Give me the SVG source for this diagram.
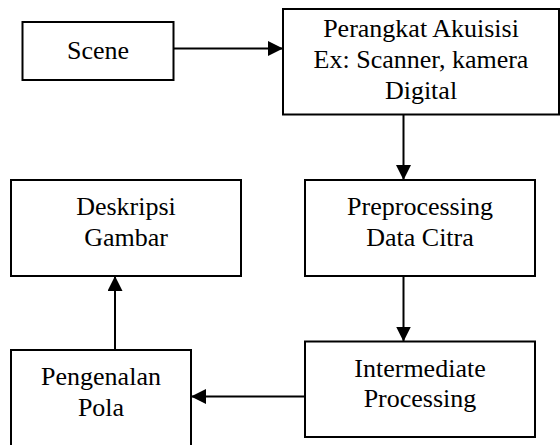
<svg xmlns="http://www.w3.org/2000/svg" width="560" height="445" viewBox="0 0 560 445">
  <style>
    .box { fill: #ffffff; stroke: #000000; stroke-width: 2; }
    .lbl { font-family: "Liberation Serif", "Times New Roman", serif; font-size: 26px; fill: #000000; text-anchor: middle; }
    .conn { stroke: #000000; stroke-width: 2; fill: none; marker-end: url(#arrow); }
  </style>
  <defs>
    <marker id="arrow" markerUnits="userSpaceOnUse" markerWidth="15" markerHeight="15" refX="15" refY="7.5" orient="auto">
      <path d="M0,0 L15,7.5 L0,15 Z" fill="#000000"/>
    </marker>
  </defs>
  <rect width="560" height="445" fill="#ffffff"/>

  <g id="scene">
    <rect class="box" x="22.5" y="22" width="151" height="58"/>
    <text class="lbl" x="98" y="58.5">Scene</text>
  </g>

  <g id="perangkat-akuisisi">
    <rect class="box" x="283" y="9" width="276" height="105.5"/>
    <text class="lbl" x="421" y="36.5">Perangkat Akuisisi</text>
    <text class="lbl" x="421" y="67.5">Ex: Scanner, kamera</text>
    <text class="lbl" x="421" y="98.5">Digital</text>
  </g>

  <g id="preprocessing">
    <rect class="box" x="305" y="180" width="230" height="96"/>
    <text class="lbl" x="420" y="215">Preprocessing</text>
    <text class="lbl" x="420" y="246">Data Citra</text>
  </g>

  <g id="intermediate">
    <rect class="box" x="305" y="341.5" width="230" height="95.5"/>
    <text class="lbl" x="420" y="376.5">Intermediate</text>
    <text class="lbl" x="420" y="407">Processing</text>
  </g>

  <g id="pengenalan-pola">
    <rect class="box" x="11" y="350" width="180" height="110"/>
    <text class="lbl" x="101" y="385">Pengenalan</text>
    <text class="lbl" x="101" y="416">Pola</text>
  </g>

  <g id="deskripsi-gambar">
    <rect class="box" x="11" y="180" width="230" height="96"/>
    <text class="lbl" x="126" y="215">Deskripsi</text>
    <text class="lbl" x="126" y="246">Gambar</text>
  </g>

  <g id="connectors">
    <line class="conn" x1="173.5" y1="48.5" x2="283" y2="48.5"/>
    <line class="conn" x1="403.5" y1="114.5" x2="403.5" y2="180"/>
    <line class="conn" x1="403.5" y1="276" x2="403.5" y2="341.5"/>
    <line class="conn" x1="305" y1="396.5" x2="191" y2="396.5"/>
    <line class="conn" x1="115" y1="350" x2="115" y2="276"/>
  </g>
</svg>
